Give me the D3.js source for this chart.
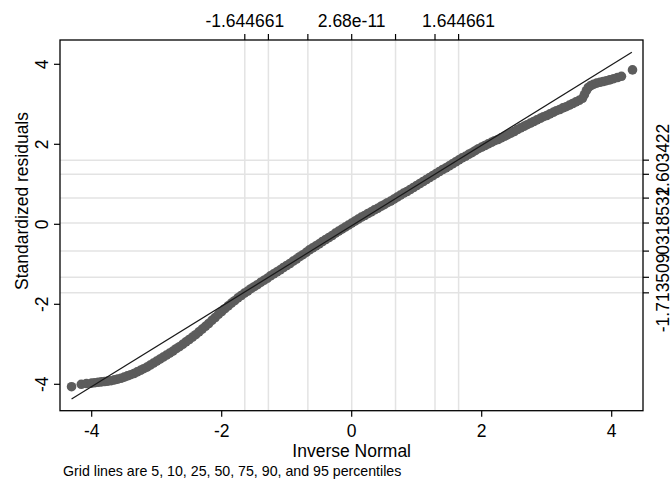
<!DOCTYPE html>
<html>
<head>
<meta charset="utf-8">
<script src="https://cdn.jsdelivr.net/npm/d3@7"></script>
<style>
  body { margin: 0; background: #ffffff; }
  text { font-family: "Liberation Sans", Arial, Helvetica, sans-serif; fill: #000; }
</style>
</head>
<body>
<div id="chart"></div>
<script>
// quantiles
var invNormal = [-4.31, -4.16, -4.08, -4.00, -3.95,
    -3.90, -3.85, -3.80, -3.75, -3.70, -3.65, -3.60, -3.55, -3.50, -3.45,
    -3.40, -3.35, -3.30, -3.25, -3.20, -3.15, -3.10, -3.05, -3.00, -2.95,
    -2.90, -2.85, -2.80, -2.75, -2.70, -2.65, -2.60, -2.55, -2.50, -2.45,
    -2.40, -2.35, -2.30, -2.25, -2.20, -2.15, -2.10, -2.05, -2.00, -1.95,
    -1.90, -1.85, -1.80, -1.75, -1.70, -1.65, -1.60, -1.55, -1.50, -1.45,
    -1.40, -1.35, -1.30, -1.25, -1.20, -1.15, -1.10, -1.05, -1.00, -0.95,
    -0.90, -0.85, -0.80, -0.75, -0.70, -0.65, -0.60, -0.55, -0.50, -0.45,
    -0.40, -0.35, -0.30, -0.25, -0.20, -0.15, -0.10, -0.05, 0.00, 0.05,
    0.10, 0.15, 0.20, 0.25, 0.30, 0.35, 0.40, 0.45, 0.50, 0.55,
    0.60, 0.65, 0.70, 0.75, 0.80, 0.85, 0.90, 0.95, 1.00, 1.05,
    1.10, 1.15, 1.20, 1.25, 1.30, 1.35, 1.40, 1.45, 1.50, 1.55,
    1.60, 1.65, 1.70, 1.75, 1.80, 1.85, 1.90, 1.95, 2.00, 2.05,
    2.10, 2.15, 2.20, 2.25, 2.30, 2.35, 2.40, 2.45, 2.50, 2.55,
    2.60, 2.65, 2.70, 2.75, 2.80, 2.85, 2.90, 2.95, 3.00, 3.05,
    3.10, 3.15, 3.20, 3.25, 3.30, 3.35, 3.40, 3.45, 3.50, 3.55,
    3.58, 3.61, 3.64, 3.68, 3.72, 3.77, 3.82, 3.87, 3.92, 3.97,
    4.03, 4.09, 4.15, 4.32];
var stdResid = [-4.06, -4.00, -3.98, -3.97, -3.96,
    -3.95, -3.94, -3.93, -3.92, -3.91, -3.89, -3.87, -3.85, -3.82, -3.79,
    -3.76, -3.73, -3.69, -3.65, -3.61, -3.57, -3.52, -3.47, -3.42, -3.37,
    -3.32, -3.27, -3.22, -3.17, -3.11, -3.06, -3.00, -2.94, -2.88, -2.82,
    -2.76, -2.69, -2.62, -2.55, -2.48, -2.40, -2.33, -2.25, -2.18, -2.11,
    -2.04, -1.97, -1.91, -1.84, -1.78, -1.72, -1.67, -1.61, -1.56, -1.51,
    -1.45, -1.40, -1.35, -1.29, -1.24, -1.19, -1.14, -1.08, -1.03, -0.98,
    -0.92, -0.87, -0.81, -0.76, -0.70, -0.64, -0.59, -0.54, -0.49, -0.43,
    -0.38, -0.33, -0.28, -0.22, -0.17, -0.12, -0.07, -0.02, 0.03, 0.08,
    0.13, 0.18, 0.22, 0.27, 0.31, 0.36, 0.40, 0.45, 0.49, 0.54,
    0.58, 0.63, 0.68, 0.73, 0.78, 0.82, 0.87, 0.92, 0.97, 1.02,
    1.07, 1.12, 1.17, 1.22, 1.27, 1.32, 1.37, 1.41, 1.46, 1.51,
    1.56, 1.61, 1.66, 1.70, 1.75, 1.79, 1.84, 1.89, 1.93, 1.97,
    2.01, 2.05, 2.09, 2.12, 2.16, 2.20, 2.24, 2.28, 2.32, 2.37,
    2.41, 2.45, 2.49, 2.53, 2.57, 2.61, 2.65, 2.69, 2.72, 2.76,
    2.80, 2.84, 2.87, 2.91, 2.94, 2.98, 3.02, 3.06, 3.10, 3.15,
    3.24, 3.34, 3.42, 3.47, 3.50, 3.53, 3.55, 3.57, 3.59, 3.61,
    3.64, 3.67, 3.70, 3.86];

// reference line ends
var refX = [-4.31, 4.31];
var refY = [-4.37, 4.30];

// axis ticks
var xTicks = [-4, -2, 0, 2, 4];
var yTicks = [-4, -2, 0, 2, 4];

// percentile grid lines (5 10 25 50 75 90 95)
var xGrid = [-1.644661, -1.281552, -0.6744898, 2.68e-11, 0.6744898, 1.281552, 1.644661];
var yGrid = [-1.713509, -1.325, -0.67, 0.0318532, 0.655, 1.25, 1.603422];
var xGridLabels = ["-1.644661", "", "", "2.68e-11", "", "", "1.644661"];
var yGridLabels = ["-1.713509", "", "", ".0318532", "", "", "1.603422"];

var width = 672;
var height = 481;

// plot box
var boxL = 60, boxR = 643, boxT = 40, boxB = 410.7;

var svg = d3.select("#chart")
    .append("svg")
    .attr("width", width)
    .attr("height", height);

var x = d3.scaleLinear()
    .domain([-4, 4])
    .range([91.7, 611.7]);

var y = d3.scaleLinear()
    .domain([-4, 4])
    .range([384.3, 64.3]);

// grid
svg.selectAll(".vgrid")
    .data(xGrid)
    .enter()
    .append("line")
    .attr("class", "vgrid")
    .attr("x1", function (d) { return x(d); })
    .attr("x2", function (d) { return x(d); })
    .attr("y1", boxT)
    .attr("y2", boxB)
    .style("stroke", "#e3e3e3")
    .style("stroke-width", "1.5px");

svg.selectAll(".hgrid")
    .data(yGrid)
    .enter()
    .append("line")
    .attr("class", "hgrid")
    .attr("x1", boxL)
    .attr("x2", boxR)
    .attr("y1", function (d) { return y(d); })
    .attr("y2", function (d) { return y(d); })
    .style("stroke", "#e3e3e3")
    .style("stroke-width", "1.5px");

// points
var pts = invNormal.map(function (d, i) { return [d, stdResid[i]]; });

svg.selectAll(".pt")
    .data(pts)
    .enter()
    .append("circle")
    .attr("class", "pt")
    .attr("cx", function (d) { return x(d[0]); })
    .attr("cy", function (d) { return y(d[1]); })
    .attr("r", 4.8)
    .style("fill", "#5c5c5c");

// reference line
svg.append("line")
    .attr("x1", x(refX[0]))
    .attr("y1", y(refY[0]))
    .attr("x2", x(refX[1]))
    .attr("y2", y(refY[1]))
    .style("stroke", "#1a1a1a")
    .style("stroke-width", "1.2px");

// frame
svg.append("rect")
    .attr("x", boxL)
    .attr("y", boxT)
    .attr("width", boxR - boxL)
    .attr("height", boxB - boxT)
    .style("fill", "none")
    .style("stroke", "#000")
    .style("stroke-width", "1.3px");

// bottom axis
svg.selectAll(".xtick")
    .data(xTicks)
    .enter()
    .append("line")
    .attr("x1", function (d) { return x(d); })
    .attr("x2", function (d) { return x(d); })
    .attr("y1", boxB)
    .attr("y2", boxB + 6)
    .style("stroke", "#000")
    .style("stroke-width", "1.2px");

svg.selectAll(".xlab")
    .data(xTicks)
    .enter()
    .append("text")
    .attr("x", function (d) { return x(d); })
    .attr("y", 437)
    .attr("text-anchor", "middle")
    .style("font-size", "17.5px")
    .text(function (d) { return d; });

svg.append("text")
    .attr("x", x(0))
    .attr("y", 456.5)
    .attr("text-anchor", "middle")
    .style("font-size", "17.5px")
    .text("Inverse Normal");

svg.append("text")
    .attr("x", 63)
    .attr("y", 476)
    .style("font-size", "14.2px")
    .text("Grid lines are 5, 10, 25, 50, 75, 90, and 95 percentiles");

// left axis
svg.selectAll(".ytick")
    .data(yTicks)
    .enter()
    .append("line")
    .attr("x1", boxL - 6)
    .attr("x2", boxL)
    .attr("y1", function (d) { return y(d); })
    .attr("y2", function (d) { return y(d); })
    .style("stroke", "#000")
    .style("stroke-width", "1.2px");

svg.selectAll(".ylab")
    .data(yTicks)
    .enter()
    .append("text")
    .attr("transform", function (d) { return "translate(47.5," + y(d) + ") rotate(-90)"; })
    .attr("text-anchor", "middle")
    .style("font-size", "17.5px")
    .text(function (d) { return d; });

svg.append("text")
    .attr("transform", "translate(27.5,201) rotate(-90)")
    .attr("text-anchor", "middle")
    .style("font-size", "17.5px")
    .text("Standardized residuals");

// top axis (percentiles of inverse normal)
svg.selectAll(".ttick")
    .data(xGrid)
    .enter()
    .append("line")
    .attr("x1", function (d) { return x(d); })
    .attr("x2", function (d) { return x(d); })
    .attr("y1", boxT - 6)
    .attr("y2", boxT)
    .style("stroke", "#000")
    .style("stroke-width", "1.2px");

svg.selectAll(".tlab")
    .data(xGrid.filter(function (d, i) { return xGridLabels[i] !== ""; }))
    .enter()
    .append("text")
    .attr("x", function (d) { return x(d); })
    .attr("y", 27)
    .attr("text-anchor", "middle")
    .style("font-size", "17.5px")
    .text(function (d) { return xGridLabels[xGrid.indexOf(d)]; });

// right axis (percentiles of residuals)
svg.selectAll(".rtick")
    .data(yGrid)
    .enter()
    .append("line")
    .attr("x1", boxR)
    .attr("x2", boxR + 6)
    .attr("y1", function (d) { return y(d); })
    .attr("y2", function (d) { return y(d); })
    .style("stroke", "#000")
    .style("stroke-width", "1.2px");

svg.selectAll(".rlab")
    .data(yGrid.filter(function (d, i) { return yGridLabels[i] !== ""; }))
    .enter()
    .append("text")
    .attr("transform", function (d) { return "translate(668.5," + y(d) + ") rotate(-90)"; })
    .attr("text-anchor", "middle")
    .style("font-size", "17.5px")
    .text(function (d) { return yGridLabels[yGrid.indexOf(d)]; });
</script>
</body>
</html>
